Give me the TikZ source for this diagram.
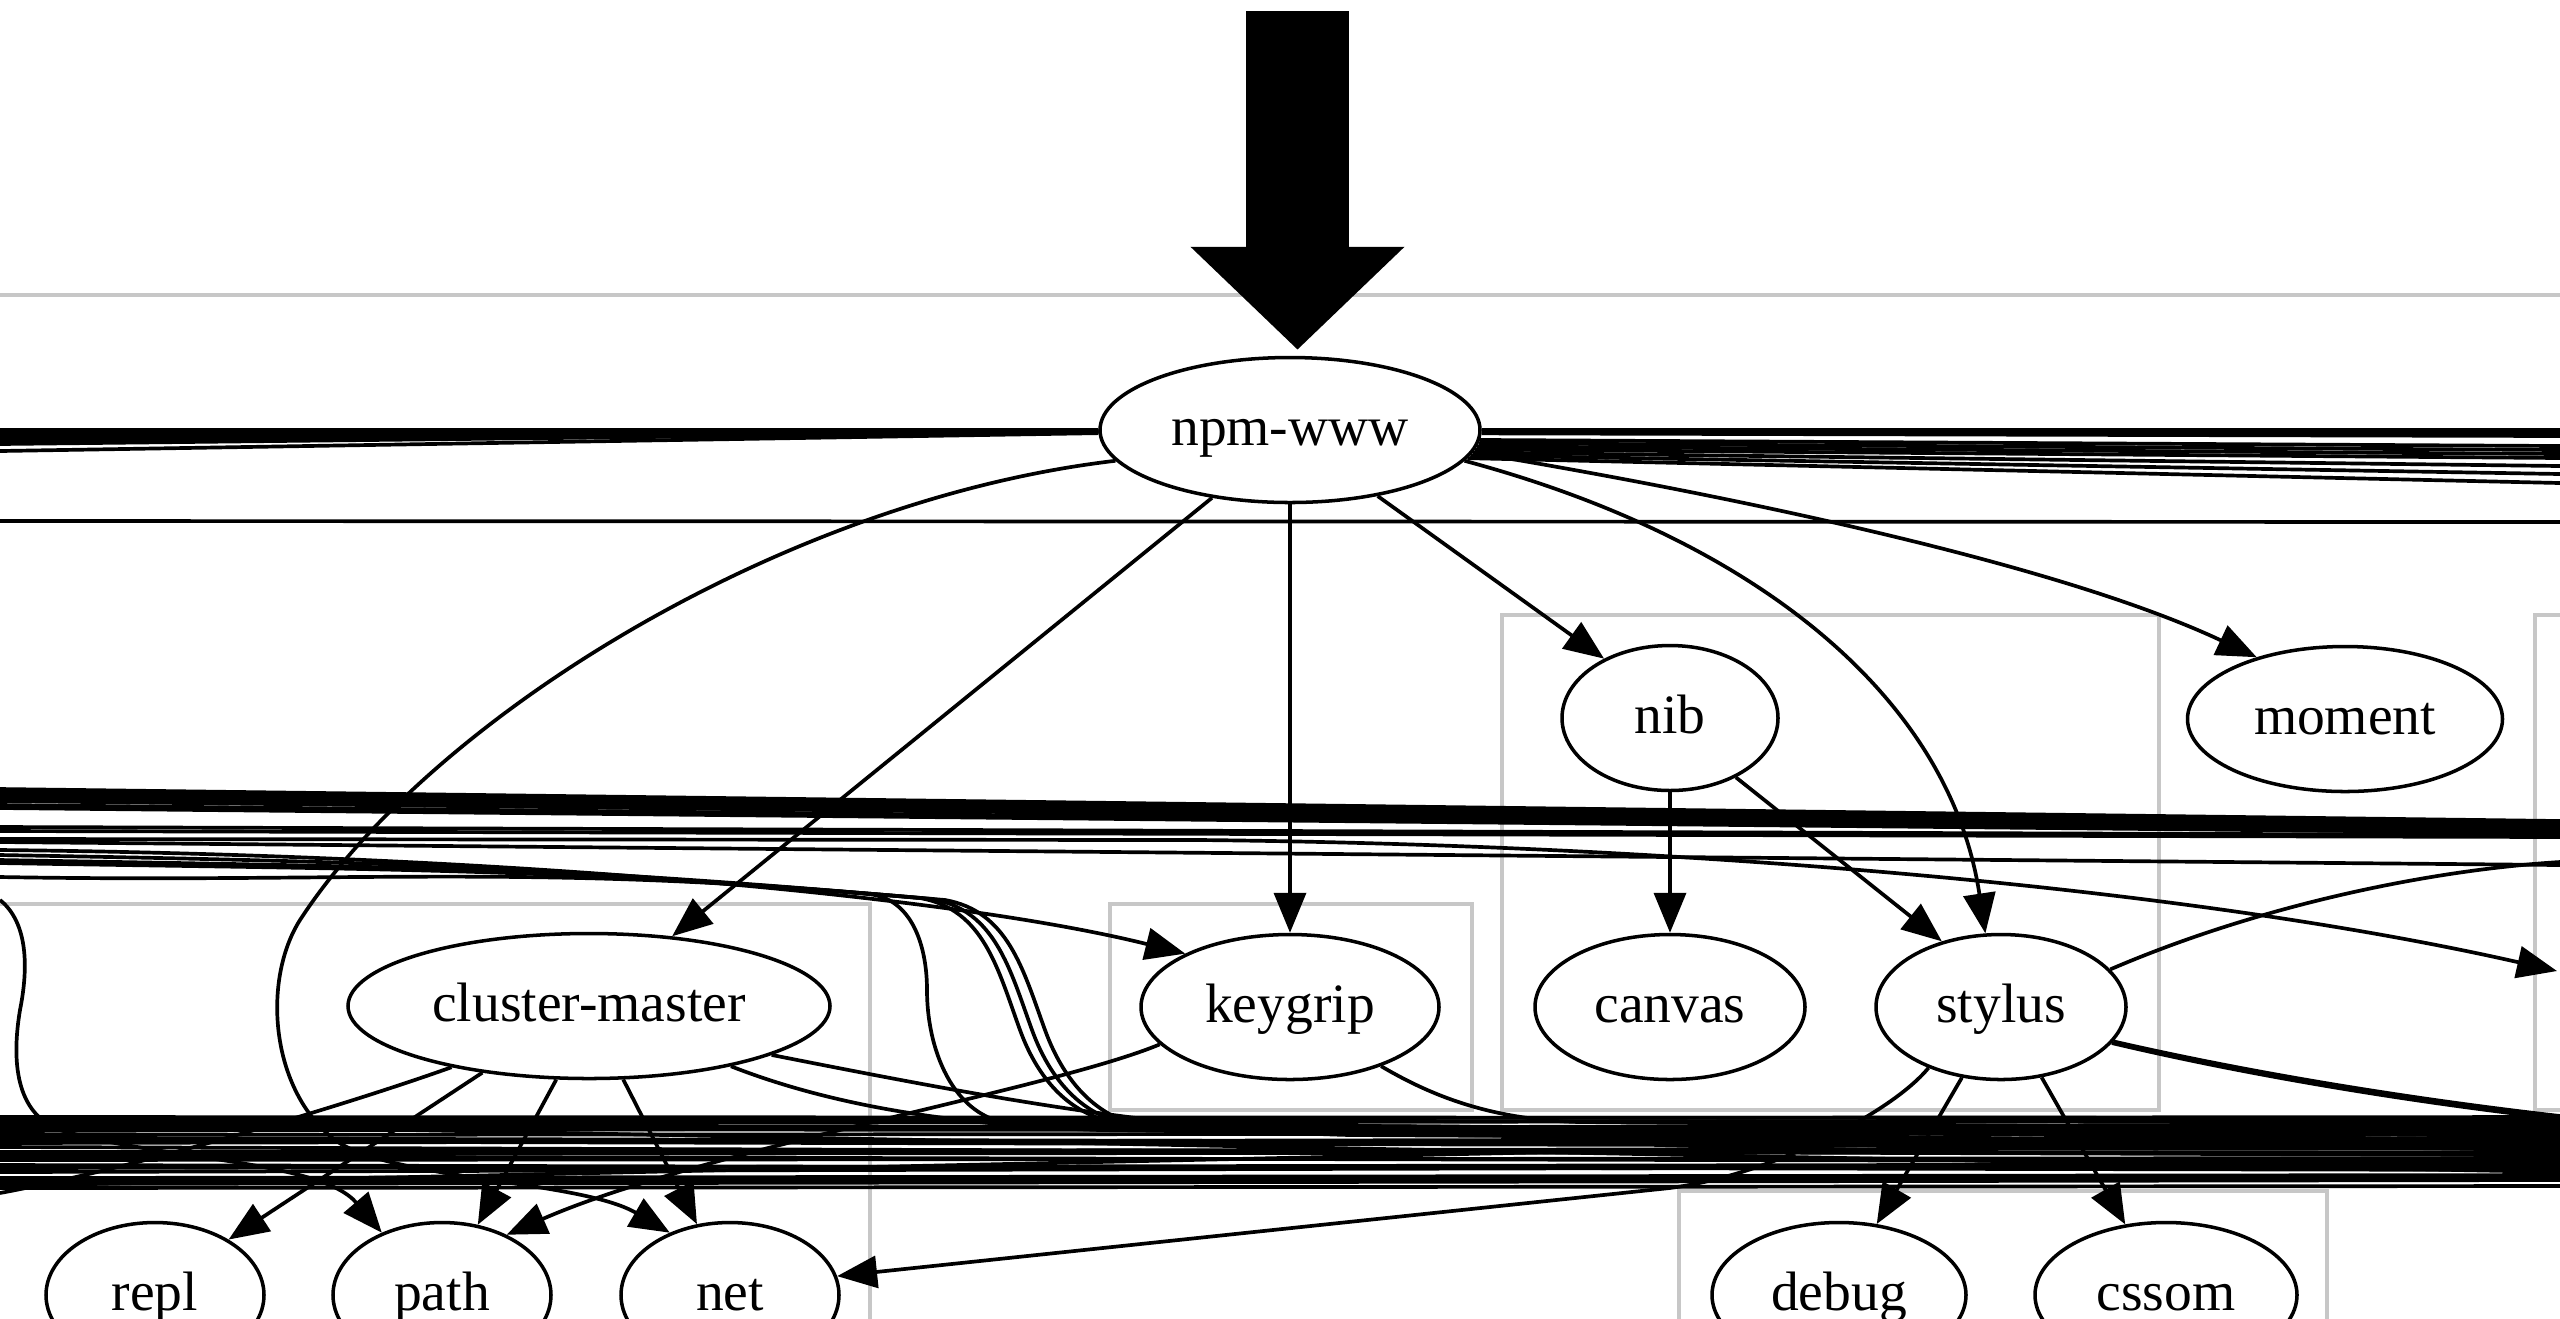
\documentclass[tikz,border=0pt]{standalone}
\usepackage{fontspec}
\setmainfont{Liberation Serif}
\usetikzlibrary{shapes.geometric,arrows.meta}

\begin{document}
\begin{tikzpicture}[
  pkg/.style={draw, ellipse, line width=1pt, inner sep=0pt, minimum height=1.45cm,
    text height=0.95em, text depth=0.07em, font=\fontsize{15.8}{18}\selectfont},
  dep/.style={draw, line width=1.05pt, -{Triangle[length=0.4cm,width=0.32cm]}},
  wire/.style={draw, line width=1.05pt},
  grp/.style={draw, black!22, line width=0.9pt}]
\useasboundingbox (0,0) rectangle (25.6,-13.18);

% clusters
\path[grp] (-0.1,-2.95) rectangle (25.7,-14);
\path[grp] (-0.1,-9.04) rectangle (8.70,-14);
\path[grp] (11.10,-9.04) rectangle (14.72,-11.10);
\path[grp] (15.02,-6.15) rectangle (21.59,-11.10);
\path[grp] (25.35,-6.15) rectangle (26,-11.10);
\path[grp] (16.79,-11.91) rectangle (23.27,-14);

% packages
\node[pkg, minimum width=3.80cm] (npmwww) at (12.90,-4.30) {npm-www};
\node[pkg, minimum width=2.16cm] (nib) at (16.70,-7.18) {nib};
\node[pkg, minimum width=3.15cm] (moment) at (23.45,-7.19) {moment};
\node[pkg, minimum width=4.82cm] (clustermaster) at (5.89,-10.06) {cluster-master};
\node[pkg, minimum width=2.98cm] (keygrip) at (12.90,-10.07) {keygrip};
\node[pkg, minimum width=2.70cm] (canvas) at (16.70,-10.07) {canvas};
\node[pkg, minimum width=2.50cm] (stylus) at (20.01,-10.07) {stylus};
\node[pkg, minimum width=2.18cm] (repl) at (1.55,-12.95) {repl};
\node[pkg, minimum width=2.18cm] (path) at (4.42,-12.95) {path};
\node[pkg, minimum width=2.18cm] (net) at (7.30,-12.95) {net};
\node[pkg, minimum width=2.54cm] (debug) at (18.39,-12.95) {debug};
\node[pkg, minimum width=2.62cm] (cssom) at (21.66,-12.95) {cssom};

% the pointer on top
\coordinate (hint) at (12.975,-0.11);
\path[draw, line width=1.03cm, -{Triangle[length=1.03cm,width=2.08cm]}, shorten >=0.6mm] (hint) -- (hint |- npmwww.north);

% npm-www
\foreach \y [count=\i] in {4.30,4.32,4.34,4.36,4.38,4.41,4.44,4.51} {
  \coordinate (wl\i) at (0,-\y);
  \path[wire] (npmwww) -- (wl\i);
}
\foreach \a/\y [count=\i] in {0/4.30,0/4.32,0/4.34,-1/4.36,-3/4.46,-4/4.50,-5/4.54,-6/4.58,-7/4.66,-8/4.74,-9/4.83} {
  \coordinate (wr\i) at (25.6,-\y);
  \path[wire] (npmwww.\a) -- (wr\i);
}
\path[dep] (npmwww.221) -- (clustermaster.40);
\path[dep] (npmwww.south) -- (keygrip.north);
\path[dep] (npmwww.-37) -- (nib.138);
\path[dep] (npmwww.-10) .. controls (17.6,-5.40) and (19.5,-7.00) .. (stylus.102);
\path[dep] (npmwww.-7) .. controls (17.0,-4.90) and (20.5,-5.60) .. (moment.145);
\path[dep] (npmwww.190) .. controls (7.8,-5.0) and (4.3,-7.2) .. (3.0,-9.2)
  .. controls (2.62,-9.8) and (2.7,-10.9) .. (3.35,-11.4)
  .. controls (3.9,-11.8) and (5.8,-11.8) .. (net.134);

% nib, stylus
\path[dep] (nib.south) -- (canvas.north);
\path[dep] (nib.-42) -- (stylus.132);
\path[dep] (stylus.241) -- (debug.62);
\path[dep] (stylus.-60) -- (cssom.120);
\path[dep] (stylus.220) .. controls (18.9,-11.15) and (17.6,-11.8) .. (16.6,-11.89) -- (net.10);
\coordinate (ws1) at (25.6,-8.62);
\coordinate (ws2) at (25.6,-11.16);
\coordinate (ws3) at (25.6,-11.19);
\path[wire] (stylus.19) .. controls (22.6,-9.05) and (24.3,-8.70) .. (ws1);
\path[wire] (stylus.-17) .. controls (22.6,-10.75) and (24.2,-11.0) .. (ws2);
\path[wire] (stylus.-18) .. controls (22.6,-10.78) and (24.2,-11.03) .. (ws3);

% keygrip
\path[dep] (keygrip.196) .. controls (10.5,-10.9) and (7.0,-11.5) .. (path.43);
\coordinate (wk) at (25.6,-11.30);
\path[wire] (keygrip.-33) .. controls (14.3,-10.95) and (14.9,-11.2) .. (15.8,-11.22) -- (wk);

% cluster-master
\path[dep] (clustermaster.212) -- (repl.37);
\path[dep] (clustermaster.246) -- (path.63);
\path[dep] (clustermaster.-65) -- (net.115);
\coordinate (wc0) at (0,-11.93);
\coordinate (wc1) at (25.6,-11.42);
\coordinate (wc2) at (25.6,-11.50);
\path[wire] (clustermaster.204) .. controls (3.6,-11.0) and (1.5,-11.65) .. (wc0);
\path[wire] (clustermaster.-15) .. controls (9.5,-10.9) and (11.5,-11.3) .. (13.5,-11.35) -- (wc1);
\path[wire] (clustermaster.-23) .. controls (8.3,-11.05) and (9.5,-11.25) .. (11.0,-11.3) -- (wc2);

% from off the left
\coordinate (wp) at (0,-9.0);
\path[dep] (wp) .. controls (0.25,-9.2) and (0.3,-9.6) .. (0.2,-10.1)
  .. controls (0.1,-10.7) and (0.2,-11.15) .. (0.6,-11.3)
  .. controls (1.6,-11.6) and (3.2,-11.6) .. (path.134);
\coordinate (wg) at (0,-8.50);
\path[dep] (wg) .. controls (5.0,-8.55) and (9.5,-8.95) .. (keygrip.153);
\coordinate (wo1) at (0,-8.39);
\coordinate (wo2) at (25.57,-9.71);
\path[dep] (wo1) -- (12.0,-8.40) .. controls (17.0,-8.45) and (22.0,-8.90) .. (wo2);
\coordinate (wh1) at (0,-5.21);
\coordinate (wh2) at (25.6,-5.22);
\path[wire] (wh1) -- (wh2);

% drops into the lower bundle
\coordinate (wd1) at (0,-8.77); \coordinate (wd1r) at (25.6,-11.33);
\coordinate (wd2) at (0,-8.55); \coordinate (wd2r) at (25.6,-11.36);
\coordinate (wd3) at (0,-8.60); \coordinate (wd3r) at (25.6,-11.40);
\coordinate (wd4) at (0,-8.63); \coordinate (wd4r) at (25.6,-11.45);
\path[wire] (wd1) to[out=-1,in=175] (8.68,-8.94) to[out=-5,in=90] (9.27,-9.9) to[out=-90,in=180] (10.2,-11.24) -- (wd1r);
\path[wire] (wd2) to[out=-1,in=175] (9.2,-8.98) to[out=-10,in=110] (10.2,-10.3) to[out=-70,in=180] (11.36,-11.24) -- (wd2r);
\path[wire] (wd3) to[out=-1,in=175] (9.32,-8.99) to[out=-10,in=110] (10.32,-10.3) to[out=-70,in=180] (11.5,-11.26) -- (wd3r);
\path[wire] (wd4) to[out=-1,in=175] (9.45,-9.0) to[out=-10,in=110] (10.45,-10.3) to[out=-70,in=180] (11.65,-11.28) -- (wd4r);

% upper bundle
\foreach \a/\b [count=\i] in {7.89/8.21,7.91/8.22,7.93/8.23,7.95/8.25,7.98/8.27,8.01/8.29,8.05/8.31,8.08/8.33,8.27/8.35,8.31/8.37,8.42/8.65} {
  \coordinate (ul\i) at (0,-\a);
  \coordinate (ur\i) at (25.6,-\b);
  \path[wire] (ul\i) -- (ur\i);
}

% lower bundle
\foreach \a/\b [count=\i] in {11.17/11.18,11.19/11.17,11.20/11.22,11.24/11.20,11.27/11.27,11.29/11.31,11.31/11.24,11.35/11.33,11.38/11.44,11.41/11.47,11.43/11.38,11.47/11.55,11.52/11.48,11.54/11.52,11.56/11.62,11.60/11.58,11.65/11.70,11.68/11.64,11.72/11.66,11.78/11.75,11.81/11.78,11.84/11.80,11.88/11.86,11.86/11.30,11.22/11.72} {
  \coordinate (bl\i) at (0,-\a);
  \coordinate (br\i) at (25.6,-\b);
  \path[wire] (bl\i) -- (br\i);
}
\end{tikzpicture}
\end{document}
